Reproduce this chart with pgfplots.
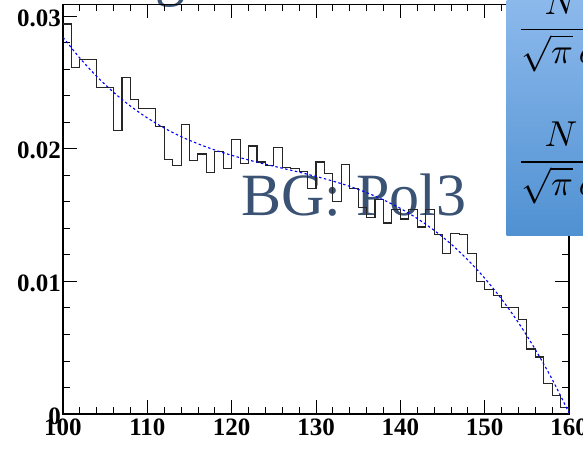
\documentclass[border=0pt]{standalone}
\usepackage{graphicx}
\usepackage{fontspec}
\setmainfont{Liberation Serif}
\usepackage{pgfplots}
\pgfplotsset{compat=1.18}
\definecolor{bgtext}{RGB}{58,82,115}
\definecolor{boxtop}{RGB}{140,185,236}
\definecolor{boxbot}{RGB}{80,145,210}
\begin{document}
\begin{tikzpicture}[x=1pt,y=1pt]
\useasboundingbox (0,0) rectangle (583,448);
\node[anchor=base west, text=bgtext, inner sep=0, font=\fontsize{60}{60}\selectfont] at (241,233) {BG: Pol3};
\node[anchor=base west, text=bgtext, inner sep=0, font=\fontsize{60}{60}\selectfont] at (155,453) {g};
\begin{axis}[
  at={(63pt,34pt)}, anchor=south west, scale only axis,
  width=506pt, height=409.5pt,
  xmin=100, xmax=160, ymin=0, ymax=0.03087,
  xtick={100,110,120,130,140,150,160},
  xticklabels={100,110,120,130,140,150,160},
  ytick={0,0.01,0.02,0.03},
  yticklabels={0,0.01,0.02,0.03},
  scaled y ticks=false,
  minor x tick num=4, minor y tick num=4,
  tick align=inside,
  major tick length=14pt, minor tick length=7pt,
  every tick/.style={black, line width=0.8pt},
  axis line style={black, line width=1.2pt},
  tick label style={font=\bfseries\fontsize{25}{25}\selectfont},
  yticklabel style={xshift=1.5pt, yshift=-2pt},
  xticklabel style={yshift=-1.5pt},
]
\addplot[const plot mark left, black!85, line width=1.1pt] coordinates {
(100,0.0294) (101,0.0261) (102,0.0267) (103,0.0267) (104,0.0246) (105,0.0246)
(106,0.0214) (107,0.0254) (108,0.0237) (109,0.0230) (110,0.0230) (111,0.0217)
(112,0.0192) (113,0.0187) (114,0.0218) (115,0.0191) (116,0.0196) (117,0.0182)
(118,0.0198) (119,0.0185) (120,0.0207) (121,0.0189) (122,0.0202) (123,0.0190)
(124,0.0187) (125,0.0201) (126,0.0186) (127,0.0185) (128,0.0183) (129,0.0170)
(130,0.0190) (131,0.0181) (132,0.0160) (133,0.0188) (134,0.0170) (135,0.0156)
(136,0.0148) (137,0.0162) (138,0.0144) (139,0.0154) (140,0.0147) (141,0.0154)
(142,0.0141) (143,0.0154) (144,0.0135) (145,0.0121) (146,0.0136) (147,0.0135)
(148,0.0121) (149,0.0100) (150,0.0094) (151,0.0089) (152,0.0080) (153,0.0080)
(154,0.0071) (155,0.0049) (156,0.0043) (157,0.0023) (158,0.0014) (159,0.0005)
(160,0.0005) (160,0)
};
\addplot[smooth, blue, line width=1.1pt, dash pattern=on 2.5pt off 2.5pt] coordinates {
(100,0.02840) (102,0.02683) (104,0.02545) (106,0.02425) (108,0.02321)
(110,0.02232) (112,0.02156) (114,0.02091) (116,0.02037) (118,0.01990)
(120,0.01950) (122,0.01915) (124,0.01883) (126,0.01853) (128,0.01823)
(130,0.01791) (132,0.01756) (134,0.01716) (136,0.01669) (138,0.01614)
(140,0.01550) (142,0.01474) (144,0.01385) (146,0.01282) (148,0.01162)
(150,0.01024) (152,0.00867) (154,0.00689) (156,0.00487) (158,0.00262)
(160,0.00010)
};
\end{axis}
\shade[top color=boxtop, bottom color=boxbot] (506.7,448) rectangle (600,213);
\node[anchor=base, inner sep=0] at (561,409.5) {\scalebox{3.6}{$\displaystyle\frac{N}{\sqrt{\pi}\,\sigma}$}};
\node[anchor=base, inner sep=0] at (561,277.2) {\scalebox{3.6}{$\displaystyle\frac{N}{\sqrt{\pi}\,\sigma}$}};
\end{tikzpicture}
\end{document}
